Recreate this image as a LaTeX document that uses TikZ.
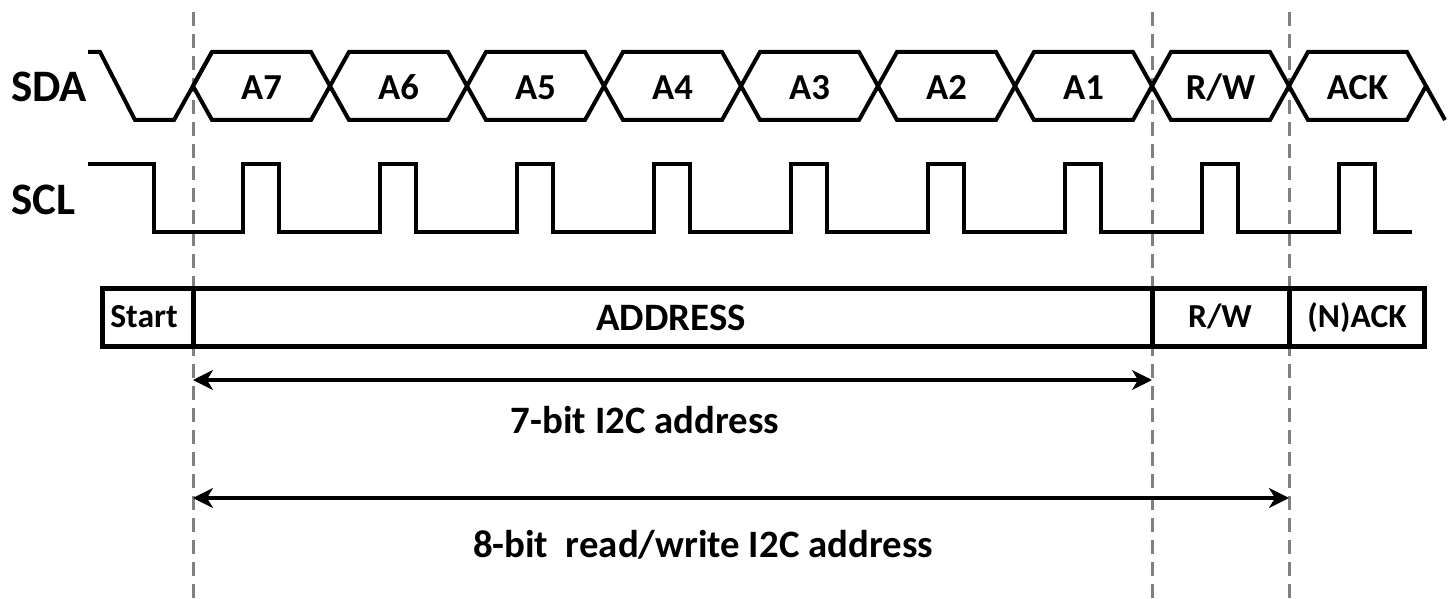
\documentclass[tikz,border=0pt]{standalone}
\usepackage{fontspec}
\setmainfont{Carlito}
\usetikzlibrary{arrows.meta}

\tikzset{
	wave/.style={line width=2pt, line join=miter},
	guide/.style={color=gray, line width=1.5pt, dash pattern=on 7pt off 4pt},
	field/.style={line width=2.5pt},
	span/.style={line width=1.6pt, {Stealth[length=10pt,width=10pt,inset=3pt]}-{Stealth[length=10pt,width=10pt,inset=3pt]}},
	siglabel/.style={font=\bfseries\fontsize{22.5}{25}\selectfont, anchor=base west},
	widthlabel/.style={font=\bfseries\fontsize{19.4}{22}\selectfont, anchor=base},
	bitlabel/.style={font=\bfseries\fontsize{18.3}{21}\selectfont, anchor=base},
	fieldlabel/.style={font=\bfseries\fontsize{16.8}{19}\selectfont, anchor=base},
}

\begin{document}
\begin{tikzpicture}[x=0.5pt, y=-0.5pt]
	\useasboundingbox (0,0) rectangle (1453,599);
	
	\def\T{137}
	\def\sl{19}
	
	% dashed guides
	\foreach \x/\n in {193/ga,1152/gb,1289/gc}
		\draw [guide] (\x,12) coordinate (\n) -- (\x,599);
	
	% SDA
	\node [siglabel] (sda) at (4,102) {SDA};
	\draw [wave] (88,52) -- (100,52) -- (135,120) -- (174,120) -- (212,52);
	\foreach \lab [count=\k from 0] in {A7,A6,A5,A4,A3,A2,A1,{R/W},ACK} {
		\def\xl{193+\T*\k}
		\draw [wave] ({\xl},86) -- ({\xl+\sl},52) -- ({\xl+\T-\sl},52) -- ({\xl+\T},86)
			-- ({\xl+\T-\sl},120) -- ({\xl+\sl},120) -- cycle;
		\node [bitlabel] (d\k) at ({\xl+\T/2},100) {\lab};
	}
	\draw [wave] (1426,86) -- (1445,120);
	
	% SCL
	\node [siglabel] (scl) at (4,215) {SCL};
	\draw [wave] (88,164) -- (154,164) -- (154,232)
		\foreach \k in {0,...,8} {
			-- ({243+\T*\k},232) -- ({243+\T*\k},164) -- ({279+\T*\k},164) -- ({279+\T*\k},232)
		} -- (1412,232);
	
	% frame fields
	\draw [field] (102,288) rectangle (1424,346);
	\foreach \x in {193,1152,1289}
		\draw [field] (\x,288) -- (\x,346);
	\node [fieldlabel] (start) at (144,328) {Start};
	\node [widthlabel] (addr) at (671,330) {ADDRESS};
	\node [fieldlabel] (rw) at (1220,328) {R/W};
	\node [fieldlabel] (ack) at (1357,328) {(N)ACK};
	
	% widths
	\coordinate (s7l) at (193,380);
	\coordinate (s7r) at (1152,380);
	\draw [span] (s7l) -- (s7r);
	\node [widthlabel] (l7) at (645,433) {7-bit I2C address};
	
	\coordinate (s8l) at (193,498);
	\coordinate (s8r) at (1289,498);
	\draw [span] (s8l) -- (s8r);
	\node [widthlabel] (l8) at (703,557) {8-bit\ \ read/write I2C address};
	
\end{tikzpicture}
\end{document}
